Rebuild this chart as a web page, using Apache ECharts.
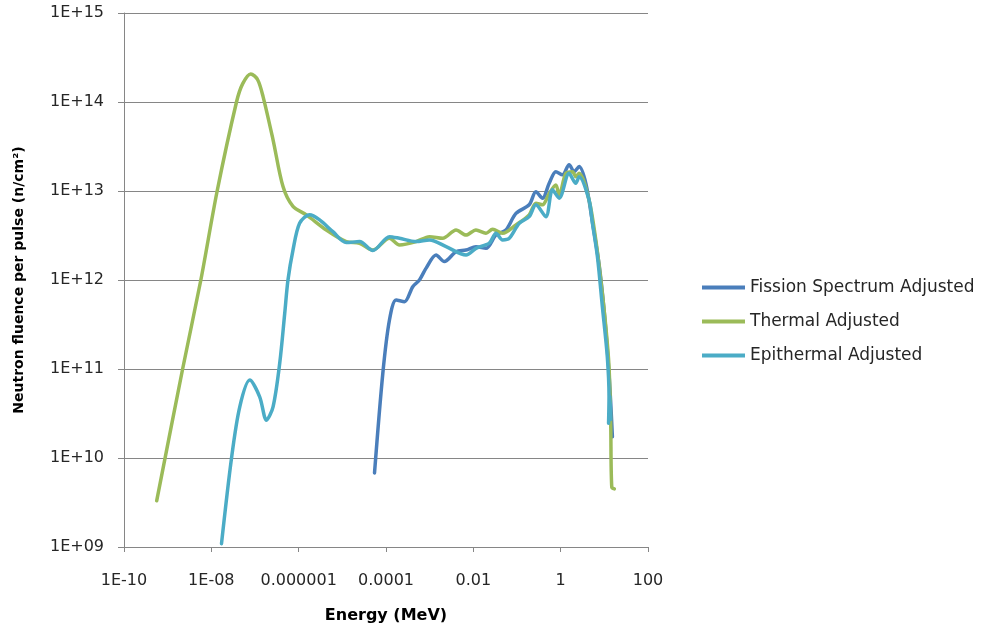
<!DOCTYPE html>
<html>
<head>
<meta charset="utf-8">
<script src="https://cdn.jsdelivr.net/npm/echarts@6/dist/echarts.min.js"></script>
<style>
  html, body { margin: 0; padding: 0; background: #ffffff; }
  #chart { width: 981px; height: 634px; }
</style>
</head>
<body>
<div id="chart"></div>
<script>
// Energy in MeV, fluence in n/cm² per pulse
const fissionEnergy = [5.46e-5, 8.45e-5, 1.2e-4, 1.71e-4, 2.65e-4, 4.1e-4, 5.83e-4, 8.3e-4, 1.4e-3, 2.17e-3,
  4.02e-3, 6.8e-3, 1.15e-2, 1.95e-2, 3.3e-2, 5.58e-2, 9.46e-2, 0.19, 0.271, 0.384,
  0.546, 0.776, 1.1, 1.56, 2.04, 2.65, 3.77, 5.25, 7.6, 9.86, 12.2, 13.9, 15.3];
const fissionFluence = [6.8e9, 8.9e10, 3.55e11, 5.96e11, 5.7e11, 8.4e11, 1.0e12, 1.36e12, 1.91e12, 1.61e12,
  2.08e12, 2.17e12, 2.37e12, 2.27e12, 3.2e12, 3.65e12, 5.6e12, 7.0e12, 9.8e12, 8.3e12,
  1.22e13, 1.65e13, 1.52e13, 1.97e13, 1.65e13, 1.88e13, 1.22e13, 4.7e12, 1.48e12, 4.6e11, 1.26e11, 4.47e10, 1.73e10];

const thermalEnergy = [5.6e-10, 2.2e-9, 5.75e-9, 1.36e-8, 3.77e-8, 5.2e-8, 8.0e-8, 1.15e-7, 1.53e-7, 2.59e-7,
  4.38e-7, 7.41e-7, 1.5e-6, 4.3e-6, 1.23e-5, 2.48e-5, 4.99e-5, 1.2e-4, 2.04e-4, 4.9e-4,
  9.9e-4, 1.99e-3, 4.02e-3, 6.8e-3, 1.15e-2, 1.95e-2, 2.76e-2, 4.68e-2, 9.46e-2, 0.19,
  0.271, 0.384, 0.546, 0.776, 0.925, 1.31, 1.86, 2.22, 2.65, 4.48,
  6.38, 8.3, 10.8, 12.8, 14.0, 14.8, 17];
const thermalFluence = [3.3e9, 1.0e11, 1.0e12, 1.0e13, 1.0e14, 1.6e14, 2.07e14, 1.78e14, 1.15e14, 3.76e13,
  1.12e13, 6.7e12, 5.4e12, 3.65e12, 2.7e12, 2.59e12, 2.17e12, 2.94e12, 2.48e12, 2.7e12,
  3.07e12, 2.94e12, 3.65e12, 3.2e12, 3.65e12, 3.35e12, 3.72e12, 3.35e12, 4.16e12, 5.4e12,
  7.3e12, 7.0e12, 9.4e12, 1.17e13, 9.0e12, 1.58e13, 1.65e13, 1.45e13, 1.58e13, 7.9e12,
  2.82e12, 1.0e12, 3.0e11, 1.06e11, 2.44e10, 4.7e9, 4.5e9];

const epithermalEnergy = [1.71e-8, 2.9e-8, 4.48e-8, 7.59e-8, 1.28e-7, 1.83e-7, 2.59e-7, 3.68e-7, 4.79e-7, 5.69e-7,
  7.41e-7, 1.05e-6, 1.78e-6, 3.02e-6, 6.08e-6, 1.23e-5, 2.48e-5, 4.99e-5, 1.2e-4, 2.04e-4,
  4.9e-4, 9.9e-4, 2.38e-3, 6.8e-3, 1.15e-2, 2.32e-2, 3.3e-2, 4.68e-2, 6.65e-2, 0.1125,
  0.19, 0.271, 0.458, 0.65, 0.925, 1.56, 2.22, 2.65, 4.48, 5.33,
  6.94, 9.02, 11.7, 12.8, 12.5, 13.5, 13.9];
const epithermalFluence = [1.09e9, 1.0e10, 3.76e10, 7.5e10, 4.87e10, 2.66e10, 3.76e10, 1.16e11, 4.2e11, 1.0e12,
  2.17e12, 4.34e12, 5.4e12, 4.73e12, 3.49e12, 2.63e12, 2.7e12, 2.14e12, 3.07e12, 2.94e12,
  2.7e12, 2.82e12, 2.37e12, 1.91e12, 2.27e12, 2.59e12, 3.35e12, 2.82e12, 2.94e12, 4.34e12,
  5.15e12, 7.0e12, 5.15e12, 1.03e13, 8.3e12, 1.58e13, 1.22e13, 1.45e13, 7.9e12, 4.37e12,
  1.83e12, 5.0e11, 1.37e11, 4.87e10, 2.46e10, 5.1e10, 2.7e10];

const seriesNames = ['Fission Spectrum Adjusted', 'Thermal Adjusted', 'Epithermal Adjusted'];
const xTickLabels = ['1E-10', '1E-08', '0.000001', '0.0001', '0.01', '1', '100'];
const yTickLabels = ['1E+09', '1E+10', '1E+11', '1E+12', '1E+13', '1E+14', '1E+15'];

const pairs = (xs, ys) => xs.map((x, i) => [x, ys[i]]);
const expOf = v => Math.round(Math.log10(v));

const gridColor = '#868686';
const labelFont = 'DejaVu Sans';

const chart = echarts.init(document.getElementById('chart'), null, { renderer: 'canvas' });

const lineSeries = (name, data, color) => ({
  name: name,
  type: 'line',
  data: data,
  smooth: 0.3,
  showSymbol: false,
  symbol: 'none',
  lineStyle: { color: color, width: 3.5, cap: 'round', join: 'round' },
  itemStyle: { color: color },
  emphasis: { disabled: true },
  animation: false
});

chart.setOption({
  backgroundColor: '#ffffff',
  animation: false,
  grid: { left: 124, right: 333, top: 13, bottom: 87, containLabel: false },
  legend: {
    orient: 'vertical',
    left: 697,
    top: 274,
    itemWidth: 43,
    itemHeight: 4,
    itemGap: 17,
    icon: 'rect',
    data: seriesNames,
    textStyle: { fontFamily: labelFont, fontSize: 17, color: '#262626' },
    selectedMode: false
  },
  xAxis: {
    type: 'log',
    logBase: 10,
    min: 1e-10,
    max: 100,
    interval: 2,
    name: 'Energy (MeV)',
    nameLocation: 'middle',
    nameGap: 61,
    nameTextStyle: { fontFamily: labelFont, fontSize: 16, fontWeight: 'bold', color: '#000000' },
    axisLine: { show: true, lineStyle: { color: gridColor, width: 1 } },
    axisTick: { show: true, inside: false, length: 5, lineStyle: { color: gridColor } },
    minorTick: { show: false },
    splitLine: { show: false },
    minorSplitLine: { show: false },
    axisLabel: {
      margin: 26,
      fontFamily: labelFont,
      fontSize: 16,
      color: '#262626',
      showMinLabel: true,
      showMaxLabel: true,
      formatter: v => xTickLabels[(expOf(v) + 10) / 2] ?? ''
    }
  },
  yAxis: {
    type: 'log',
    logBase: 10,
    min: 1e9,
    max: 1e15,
    interval: 1,
    name: 'Neutron fluence per pulse (n/cm²)',
    nameLocation: 'middle',
    nameGap: 98,
    nameRotate: 90,
    nameTextStyle: { fontFamily: labelFont, fontSize: 14, fontWeight: 'bold', color: '#000000' },
    axisLine: { show: true, lineStyle: { color: gridColor, width: 1 } },
    axisTick: { show: true, inside: false, length: 6, lineStyle: { color: gridColor } },
    minorTick: { show: false },
    splitLine: { show: true, lineStyle: { color: gridColor, width: 1 } },
    minorSplitLine: { show: false },
    axisLabel: {
      margin: 20,
      fontFamily: labelFont,
      fontSize: 16,
      color: '#262626',
      formatter: v => yTickLabels[expOf(v) - 9] ?? ''
    }
  },
  series: [
    lineSeries(seriesNames[0], pairs(fissionEnergy, fissionFluence), '#4A7EBB'),
    lineSeries(seriesNames[1], pairs(thermalEnergy, thermalFluence), '#9BBB59'),
    lineSeries(seriesNames[2], pairs(epithermalEnergy, epithermalFluence), '#4BACC6')
  ]
});
</script>
</body>
</html>
